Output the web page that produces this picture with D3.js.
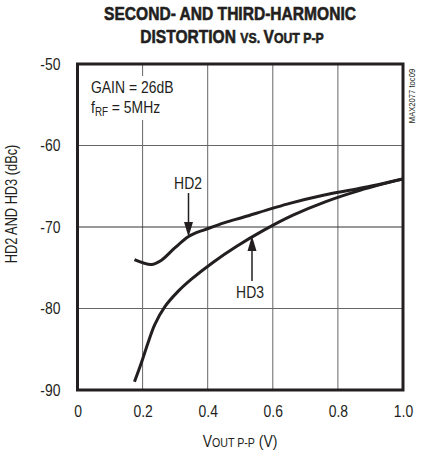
<!DOCTYPE html>
<html>
<head>
<meta charset="utf-8">
<script src="https://cdn.jsdelivr.net/npm/d3@7"></script>
<style>
  html, body { margin: 0; padding: 0; background: #fff; }
  svg { display: block; }
  text { font-family: "Liberation Sans", Arial, sans-serif; fill: #231f20; }
</style>
</head>
<body>
<svg id="chart" width="422" height="453"></svg>
<script>
// Output swing (V p-p) and measured distortion (dBc)
const hd2Vout = [0.175, 0.227, 0.257, 0.298, 0.34, 0.365, 0.39, 0.45, 0.509, 0.652, 0.755, 0.868, 1.0];
const hd2Dbc  = [-74.0, -74.6, -74.1, -72.6, -71.2, -70.7, -70.35, -69.5, -68.8, -67.1, -66.1, -65.25, -64.1];
const hd3Vout = [0.175, 0.196, 0.216, 0.237, 0.268, 0.309, 0.35, 0.416, 0.488, 0.57, 0.662, 0.765, 0.868, 1.0];
const hd3Dbc  = [-89.0, -86.7, -84.3, -82.0, -79.8, -77.9, -76.4, -74.35, -72.4, -70.45, -68.55, -66.85, -65.5, -64.1];

const xTicks = [0, 0.2, 0.4, 0.6, 0.8, 1.0];
const yTicks = [-90, -80, -70, -60, -50];

const svg = d3.select("#chart");
const ink = "#231f20";
const NARROW = 0.82; // horizontal squeeze giving a condensed face

const x = d3.scaleLinear().domain([0, 1]).range([77.5, 403]);
const y = d3.scaleLinear().domain([-90, -50]).range([390, 64]);

// place a text element at (px, py) with condensed glyphs
function narrowText(parent, px, py, size, extra = "") {
  return parent.append("text")
    .attr("transform", `translate(${px},${py}) ${extra} scale(${NARROW},1)`)
    .attr("font-size", size);
}

// grid
const grid = svg.append("g");
grid.selectAll("line.v").data(xTicks.slice(1, -1)).join("line")
  .attr("x1", d => x(d)).attr("x2", d => x(d))
  .attr("y1", y(-50)).attr("y2", y(-90))
  .attr("stroke", "#666").attr("stroke-width", 1);
grid.selectAll("line.h").data(yTicks.slice(1, -1)).join("line")
  .attr("x1", x(0)).attr("x2", x(1))
  .attr("y1", d => y(d)).attr("y2", d => y(d))
  .attr("stroke", d => d === -70 ? "#333" : "#666").attr("stroke-width", 1);

// conditions box (white backing hides the grid behind the text)
svg.append("rect").attr("x", 88).attr("y", 76).attr("width", 90).attr("height", 44).attr("fill", "#fff");
narrowText(svg, 91, 93, 17).text("GAIN = 26dB");
const fl = narrowText(svg, 91, 113, 17);
fl.append("tspan").text("f");
fl.append("tspan").attr("font-size", 12).attr("dy", 3).text("RF");
fl.append("tspan").attr("dy", -3).text(" = 5MHz");

// curves
const line = d3.line().x(d => x(d[0])).y(d => y(d[1])).curve(d3.curveCatmullRom.alpha(0.5));
svg.append("path").datum(d3.zip(hd2Vout, hd2Dbc)).attr("d", line)
  .attr("fill", "none").attr("stroke", ink).attr("stroke-width", 3).attr("stroke-linejoin", "round");
svg.append("path").datum(d3.zip(hd3Vout, hd3Dbc)).attr("d", line)
  .attr("fill", "none").attr("stroke", ink).attr("stroke-width", 3).attr("stroke-linejoin", "round");

// frame
svg.append("rect").attr("x", x(0)).attr("y", y(-50))
  .attr("width", x(1) - x(0)).attr("height", y(-90) - y(-50))
  .attr("fill", "none").attr("stroke", ink).attr("stroke-width", 3);

// axes
const xAxis = svg.append("g").attr("transform", `translate(0,${y(-90)})`)
  .call(d3.axisBottom(x).tickValues(xTicks).tickSize(0).tickPadding(15)
    .tickFormat(d => d === 0 ? "0" : d3.format(".1f")(d)));
const yAxis = svg.append("g").attr("transform", `translate(${x(0)},0)`)
  .call(d3.axisLeft(y).tickValues(yTicks).tickSize(0).tickPadding(17).tickFormat(d => String(d)));
[xAxis, yAxis].forEach(g => {
  g.select(".domain").remove();
  g.selectAll("text").attr("font-size", 17).attr("font-family", null).attr("fill", ink)
    .attr("transform", `scale(${NARROW},1)`);
});
yAxis.selectAll("text").attr("x", -17 / NARROW);

// arrows with labels
function arrow(xv, y0, y1) {
  const dir = Math.sign(y1 - y0);
  svg.append("line").attr("x1", xv).attr("x2", xv).attr("y1", y0).attr("y2", y1 - dir * 12)
    .attr("stroke", ink).attr("stroke-width", 1.5);
  svg.append("path")
    .attr("d", `M${xv},${y1} L${xv - 4.5},${y1 - dir * 15} L${xv + 4.5},${y1 - dir * 15} Z`)
    .attr("fill", ink);
}
narrowText(svg, 188, 189, 17).attr("text-anchor", "middle").text("HD2");
arrow(188.5, 193, 237);
narrowText(svg, 250, 298, 17).attr("text-anchor", "middle").text("HD3");
arrow(252, 281, 236);

// axis titles
const xt = narrowText(svg, 240, 447, 17).attr("text-anchor", "middle");
xt.append("tspan").text("V");
xt.append("tspan").attr("font-size", 13).text("OUT P-P");
xt.append("tspan").text(" (V)");

svg.append("text").attr("transform", `translate(17,204) rotate(-90) scale(0.8,1)`)
  .attr("text-anchor", "middle").attr("font-size", 16).text("HD2 AND HD3 (dBc)");

// title, heavy condensed
const heavy = s => s.attr("text-anchor", "middle").attr("font-weight", "bold")
  .attr("stroke", ink).attr("stroke-width", 0.6).attr("stroke-linejoin", "round");
narrowText(svg, 230, 20, 19).call(heavy).text("SECOND- AND THIRD-HARMONIC");
const t2 = narrowText(svg, 232, 43, 19).call(heavy);
t2.append("tspan").text("DISTORTION ");
t2.append("tspan").attr("font-size", 15).text("VS. ");
t2.append("tspan").text("V");
t2.append("tspan").attr("font-size", 15).text("OUT P-P");

// part id
svg.append("text").attr("transform", "translate(415,96) rotate(-90) scale(0.85,1)")
  .attr("text-anchor", "middle").attr("font-size", 9).attr("fill", "#555").text("MAX2077 toc09");
</script>
</body>
</html>
